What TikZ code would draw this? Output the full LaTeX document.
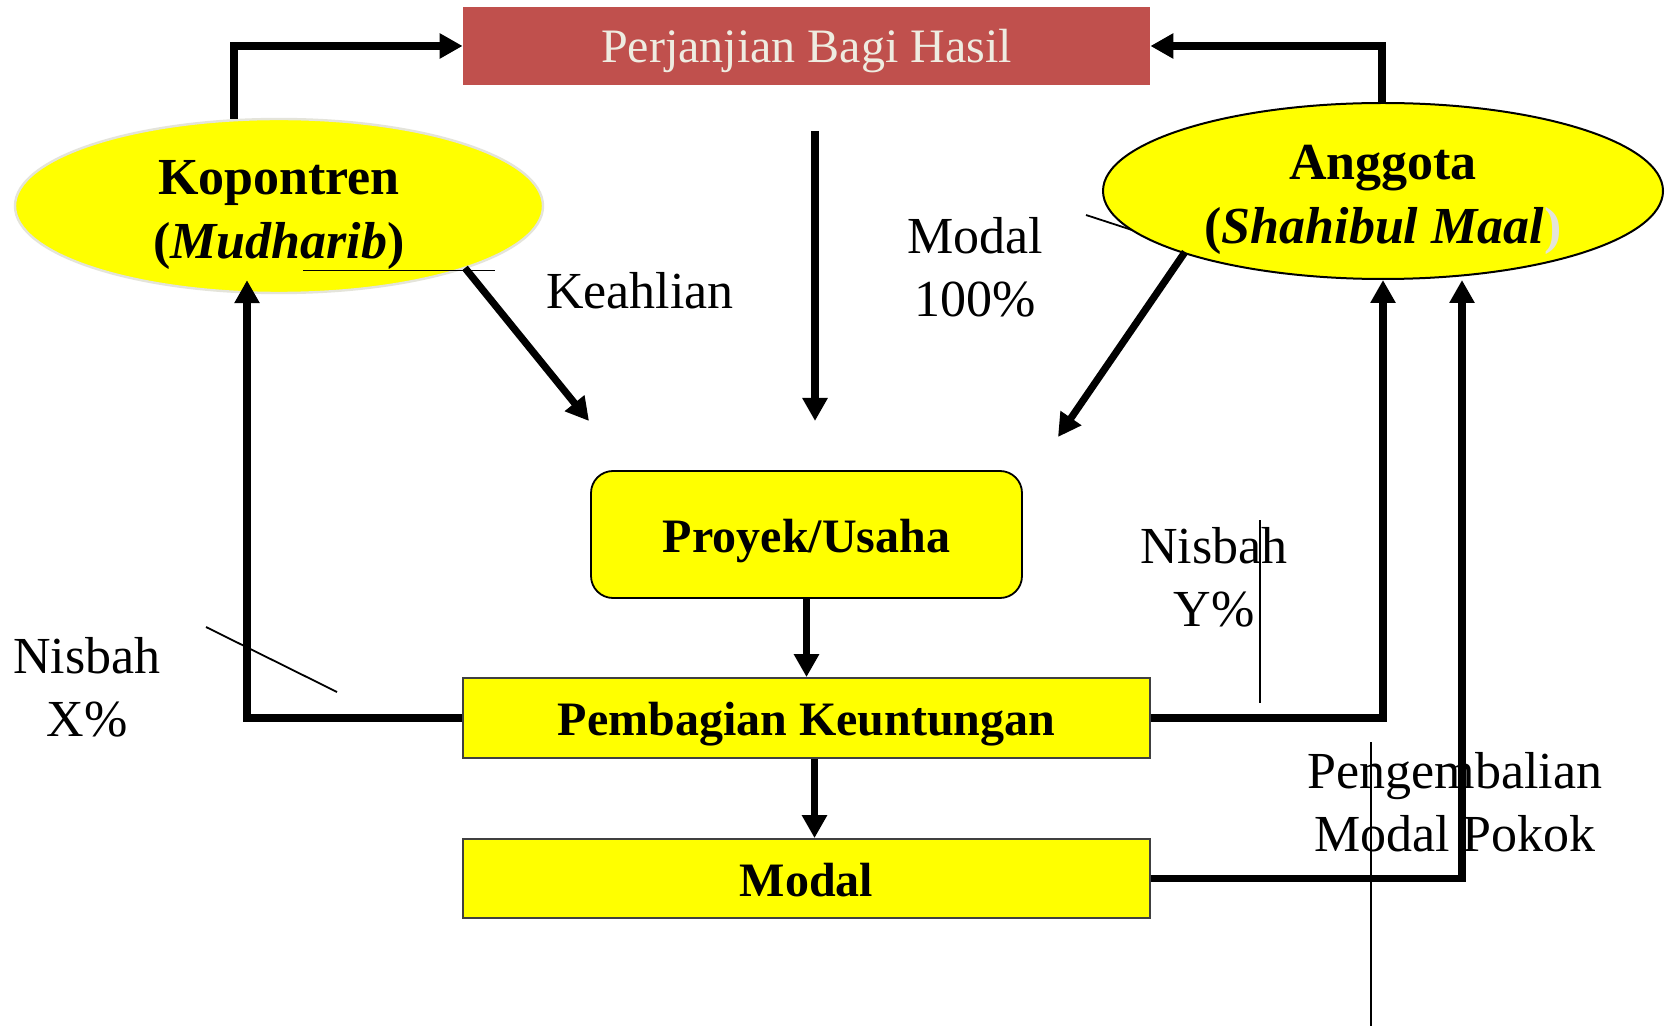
\documentclass[tikz,border=0pt]{standalone}
\usepackage{fontspec}
\setmainfont{Liberation Serif}
\usetikzlibrary{arrows.meta,calc,shapes.geometric}
\definecolor{boxred}{HTML}{C0504D}
\definecolor{boxtext}{HTML}{EEECE1}
\definecolor{yel}{HTML}{FFFF00}
\definecolor{faint}{HTML}{E4E4DA}
\newcommand{\dnshift}[2]{\raisebox{-#1}[\height][\depth]{#2}}
\begin{document}
\begin{tikzpicture}[x=0.5pt,y=-0.5pt,
  arr/.style={line width=3.6pt,-{Triangle[length=11.5pt,width=12pt]}},
  thinline/.style={line width=0.9pt},
  lbl/.style={font=\fontsize{26}{31.5}\selectfont,align=center,inner sep=0pt},
  ell/.style={ellipse,fill=yel,inner sep=-4pt,align=center,font=\fontsize{26}{32}\selectfont\bfseries},
  redbox/.style={rectangle,fill=boxred,text=boxtext,minimum width=343.5pt,minimum height=39pt,font=\fontsize{24}{28}\selectfont},
  ybox/.style={rectangle,fill=yel,draw=black!75,line width=0.9pt,minimum width=343.5pt,minimum height=39.5pt,font=\fontsize{24}{28}\selectfont\bfseries}
]
\fill[white] (0,0) rectangle (1670,1026);
\path[use as bounding box] (0,0) rectangle (1670,1026);

% thin line near Modal 100% (behind ellipse)
\coordinate (mt1) at (1086,215);
\coordinate (mt2) at (1132,230);
\draw[thinline] (mt1) -- (mt2);

% nodes
\node[redbox] (red) at (806.5,46) {\dnshift{2.7pt}{Perjanjian Bagi Hasil}};
\node[ell,draw=faint,line width=1.2pt,minimum width=264pt,minimum height=87pt] (kop) at (279,206)
  {\dnshift{3.7pt}{\begin{tabular}{@{}c@{}}Kopontren\\(\textit{Mudharib})\end{tabular}}};
\node[ell,draw=black,line width=1pt,minimum width=280pt,minimum height=88pt] (ang) at (1383,191)
  {\dnshift{3.7pt}{\begin{tabular}{@{}c@{}}Anggota\\(\textit{Shahibul Maal}\textcolor{faint}{)}\end{tabular}}};
\node[ybox,rounded corners=11pt,draw=black,minimum width=215.5pt,minimum height=63.5pt] (proy) at (806.5,534.5) {\dnshift{3.2pt}{Proyek/Usaha}};
\node[ybox,minimum height=40pt] (pemb) at (806.5,718) {\dnshift{3.2pt}{Pembagian Keuntungan}};
\node[ybox] (modal) at (806.5,878.5) {\dnshift{0.6pt}{Modal}};

% labels
\node[lbl] (keah) at (640,291) {Keahlian};
\node[lbl] (mod100) at (975,267) {Modal\\100\%};
\node[lbl] (nisx) at (87,687) {Nisbah\\X\%};
\node[lbl] (nisy) at (1214,577) {Nisbah\\Y\%};
\node[lbl] (peng) at (1455,802) {Pengembalian\\Modal Pokok};

% connectors
\draw[arr] ($(kop.north)+(-45,1)$) |- (red.west);
\draw[arr] ($(ang.north)+(-1,0)$) |- (red.east);

\coordinate (ka1) at (465,268);
\coordinate (ka2) at (589,421);
\draw[arr] (ka1) -- (ka2);

\coordinate (ca1) at (815,131);
\coordinate (ca2) at (815,421);
\draw[arr] (ca1) -- (ca2);

\coordinate (aa1) at (1185,252);
\coordinate (aa2) at (1058,437);
\draw[arr] (aa1) -- (aa2);

\draw[arr] (proy.south) -- (pemb.north);
\draw[arr] ($(pemb.south)+(8,0)$) -- ($(modal.north)+(8,0)$);

\draw[arr] (pemb.west) -| ($(kop.south)+(-32,-14)$);
\draw[arr] (pemb.east) -| (ang.south);
\draw[arr] (modal.east) -| ($(ang.south)+(79,0)$);

% thin lines
\coordinate (u1) at (303,270.5);
\coordinate (u2) at (495,270.5);
\draw[thinline] (u1) -- (u2);
\coordinate (x1) at (206,627);
\coordinate (x2) at (337,692);
\draw[thinline] (x1) -- (x2);
\coordinate (y1) at (1260,520);
\coordinate (y2) at (1260,703);
\draw[thinline] (y1) -- (y2);
\coordinate (p1) at (1371,742);
\coordinate (p2) at (1371,1026);
\draw[thinline] (p1) -- (p2);
\end{tikzpicture}
\end{document}
